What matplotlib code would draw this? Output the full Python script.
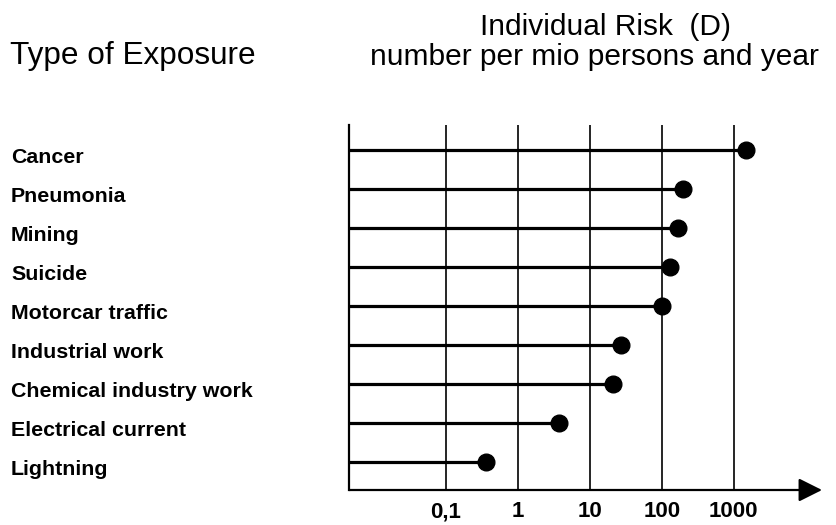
import numpy as np
import matplotlib
matplotlib.use('Agg')
import matplotlib.pyplot as plt
import matplotlib.transforms as mtransforms
from matplotlib.ticker import NullLocator

plt.rcParams['font.family'] = ['Liberation Sans', 'DejaVu Sans']

# Data (individual risk per million persons and year)
exposures = ['Cancer', 'Pneumonia', 'Mining', 'Suicide', 'Motorcar traffic',
             'Industrial work', 'Chemical industry work', 'Electrical current',
             'Lightning']
risk = [1500, 200, 170, 130, 100, 27, 21, 3.7, 0.36]
tick_values = [0.1, 1, 10, 100, 1000]
tick_labels = ['0,1', '1', '10', '100', '1000']

W, H = 837, 525
fig = plt.figure(figsize=(W / 100, H / 100), dpi=100)
ax = fig.add_axes([349.5 / W, 35 / H, (822 - 349.5) / W, 365 / H])

n = len(exposures)
y = np.arange(n)[::-1]

ax.set_xscale('log')
ax.set_xlim(0.0046, 16800)
ax.set_ylim(-0.72, n - 1 + 0.64)

# vertical grid lines at decades
ax.set_xticks(tick_values, tick_labels)
ax.xaxis.set_minor_locator(NullLocator())
ax.set_yticks([])
ax.xaxis.grid(True, color='black', linewidth=1.2)
ax.set_axisbelow(True)
ax.tick_params(axis='x', length=0, pad=8, labelsize=16)
for lab in ax.get_xticklabels():
    lab.set_fontweight('bold')

# lollipops
ax.hlines(y, ax.get_xlim()[0], risk, color='black', linewidth=2.3, zorder=3)
ax.plot(risk, y, 'o', color='black', markersize=12, zorder=4, clip_on=False)

# axes lines
for side in ['top', 'right', 'bottom']:
    ax.spines[side].set_visible(False)
ax.spines['left'].set_linewidth(1.6)
ax.annotate('', xy=(1.0, 0), xytext=(0, 0), xycoords='axes fraction',
            textcoords='axes fraction',
            arrowprops=dict(arrowstyle='-|>,head_length=1.3,head_width=0.65',
                            color='black', lw=1.6, mutation_scale=11,
                            shrinkA=0, shrinkB=0),
            annotation_clip=False)

# category labels on the left
trans = mtransforms.blended_transform_factory(fig.transFigure, ax.transData)
trans = trans + mtransforms.ScaledTranslation(0, -12.7 / 100, fig.dpi_scale_trans)
for yi, name in zip(y, exposures):
    ax.text(11 / W, yi, name, transform=trans, ha='left', va='baseline',
            fontsize=15.4, fontweight='bold')

# headings
fig.text(10.5 / W, 1 - 64 / H, 'Type of Exposure', fontsize=22.7,
         ha='left', va='baseline')
fig.text(606 / W, 1 - 35.2 / H, 'Individual Risk  (D)', fontsize=21.5,
         ha='center', va='baseline')
fig.text(594.5 / W, 1 - 64.6 / H, 'number per mio persons and year', fontsize=21.5,
         ha='center', va='baseline')

fig.savefig('out.png', dpi=100)
